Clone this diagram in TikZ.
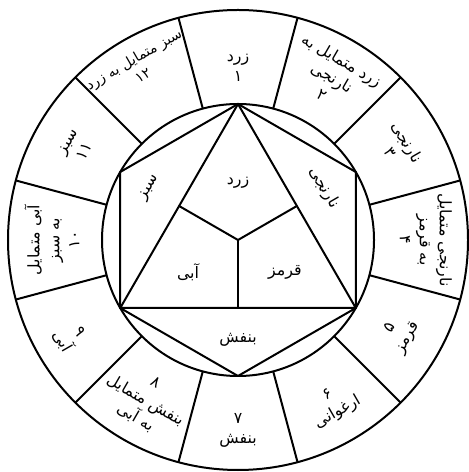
\documentclass[tikz,border=0pt]{standalone}
\usepackage{fontspec}
\newfontfamily\arabicfont[Script=Arabic]{DejaVu Sans}
\TeXXeTstate=1
\usetikzlibrary{calc}
\newcommand{\fa}[1]{{\arabicfont\beginR #1\endR}}
\newcommand{\fanum}[1]{{\arabicfont\beginL #1\endL}}

\begin{document}
\begin{tikzpicture}[x=0.6pt,y=0.6pt,line width=1.2pt,line join=round,
    seglabel/.style={align=center,inner sep=1pt,font=\fontsize{9.5}{12}\selectfont},
    ]
\useasboundingbox (-238,-232) rectangle (230,240);

% the ring
\coordinate (o) at (0,0);
\draw (o) circle (230);
\draw (o) circle (136);
\foreach \a in {15,45,...,345}
  \draw (\a:136) -- (\a:230);

% hexagon and triangle
\foreach \i/\a in {1/90,2/30,3/-30,4/-90,5/-150,6/150}
  \coordinate (h\i) at (\a:136);
\draw (h1) -- (h2) -- (h3) -- (h4) -- (h5) -- (h6) -- cycle;
\draw (h1) -- (h3) -- (h5) -- cycle;
\draw (o) -- ($(h1)!0.5!(h3)$);
\draw (o) -- ($(h3)!0.5!(h5)$);
\draw (o) -- ($(h5)!0.5!(h1)$);

% inner labels
\node[seglabel] (yellow) at (0,57) {\fa{زرد}};
\node[seglabel] (blue) at (-50,-32) {\fa{آبی}};
\node[seglabel] (red) at (47,-32) {\fa{قرمز}};
\node[seglabel] (violet) at (0,-100) {\fa{بنفش}};
\node[seglabel,rotate=60] (green) at (-88,52) {\fa{سبز}};
\node[seglabel,rotate=-60] (orange) at (86,52) {\fa{نارنجی}};

% ring labels
\node[seglabel] (s1) at (90:172) {\fa{زرد}\\\fanum{۱}};
\node[seglabel,rotate=-30] (s2) at (60:188) {\fa{زرد متمایل به}\\\fa{نارنجی}\\\fanum{۲}};
\node[seglabel,rotate=-60] (s3) at (30:186) {\fa{نارنجی}\\\fanum{۳}};
\node[seglabel,rotate=-90] (s4) at (0:188) {\fa{نارنجی متمایل}\\\fa{به قرمز}\\\fanum{۴}};
\node[seglabel,rotate=60] (s5) at (-30:186) {\fanum{۵}\\\fa{قرمز}};
\node[seglabel,rotate=30] (s6) at (-60:190) {\fanum{۶}\\\fa{ارغوانی}};
\node[seglabel] (s7) at (-90:190) {\fanum{۷}\\\fa{بنفش}};
\node[seglabel,rotate=-30] (s8) at (-120:186) {\fanum{۸}\\\fa{بنفش متمایل}\\\fa{به آبی}};
\node[seglabel,rotate=-60] (s9) at (-150:194) {\fanum{۹}\\\fa{آبی}};
\node[seglabel,rotate=90] (s10) at (180:186) {\fa{آبی متمایل}\\\fa{به سبز}\\\fanum{۱۰}};
\node[seglabel,rotate=60] (s11) at (150:186) {\fa{سبز}\\\fanum{۱۱}};
\node[seglabel,rotate=30,font=\fontsize{8.5}{11}\selectfont] (s12) at (120:200) {\fa{سبز متمایل به زرد}\\\fanum{۱۲}};
\end{tikzpicture}
\end{document}
